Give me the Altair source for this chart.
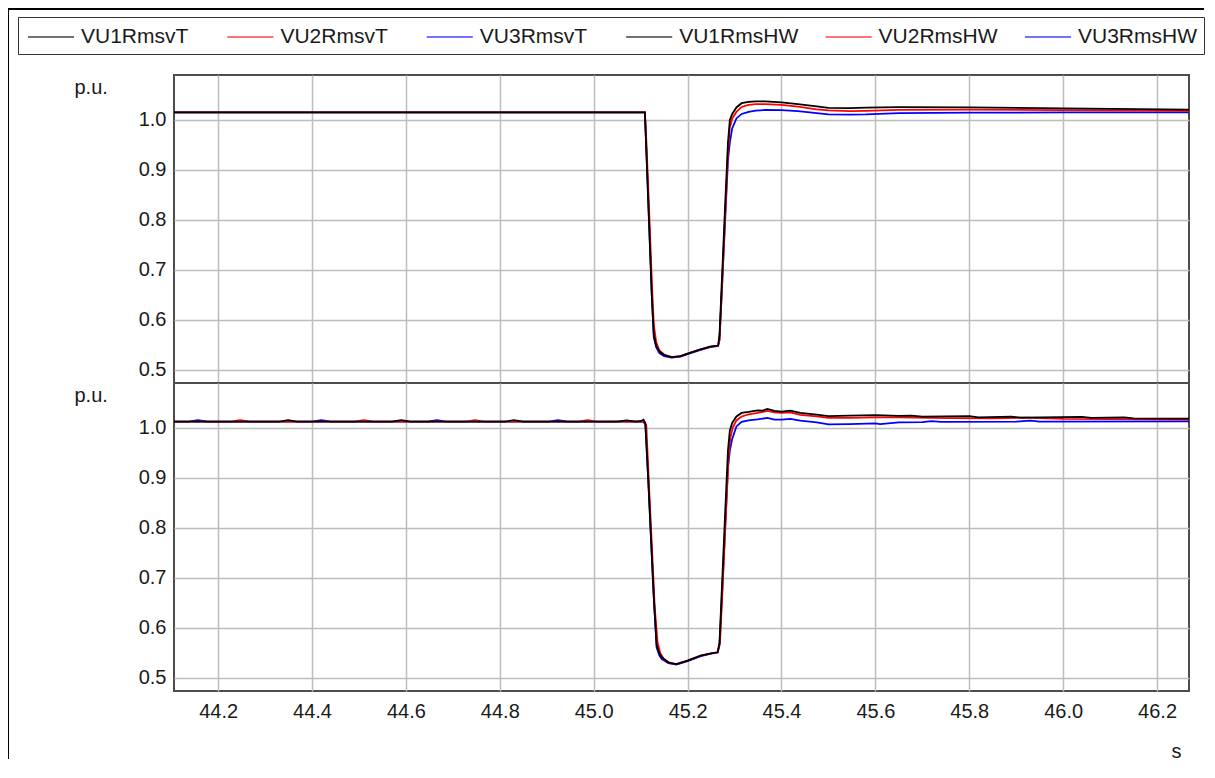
import altair as alt
import pandas as pd

SERIES = ["VU1RmsvT", "VU2RmsvT", "VU3RmsvT", "VU1RmsHW", "VU2RmsHW", "VU3RmsHW"]
COLORS = ["#000000", "#ff0000", "#0000ff", "#000000", "#ff0000", "#0000ff"]
X_TICKS = [44.2, 44.4, 44.6, 44.8, 45.0, 45.2, 45.4, 45.6, 45.8, 46.0, 46.2]
Y_TICKS = [0.5, 0.6, 0.7, 0.8, 0.9, 1.0]
X_DOMAIN = [44.106, 46.268]
Y_DOMAIN = [0.473, 1.09]

# ---- top panel (simulation, vT) ----
T_SIM = [44.106, 45.100, 45.109, 45.112, 45.118, 45.124, 45.128, 45.133, 45.140, 45.150,
         45.166, 45.185, 45.200, 45.226, 45.248, 45.265, 45.268, 45.274, 45.280, 45.286,
         45.290, 45.295, 45.304, 45.315, 45.330, 45.345, 45.365, 45.400, 45.435, 45.475,
         45.500, 45.545, 45.580, 45.650, 45.800, 46.000, 46.268]
VU1_VT = [1.015, 1.015, 1.015, 0.94, 0.79, 0.64, 0.57, 0.548, 0.536, 0.529,
          0.525, 0.527, 0.532, 0.540, 0.546, 0.548, 0.57, 0.70, 0.83, 0.955,
          1.000, 1.012, 1.025, 1.0335, 1.036, 1.037, 1.037, 1.035, 1.0315, 1.027,
          1.024, 1.0235, 1.0245, 1.0255, 1.025, 1.023, 1.0205]
VU2_VT = [1.015, 1.015, 1.015, 0.96, 0.82, 0.67, 0.59, 0.555, 0.538, 0.530,
          0.525, 0.527, 0.532, 0.540, 0.546, 0.548, 0.56, 0.68, 0.81, 0.935,
          0.985, 1.003, 1.016, 1.026, 1.030, 1.0315, 1.0315, 1.030, 1.0265, 1.021,
          1.019, 1.0175, 1.018, 1.020, 1.0205, 1.0195, 1.018]
VU3_VT = [1.015, 1.015, 1.015, 0.945, 0.795, 0.645, 0.565, 0.545, 0.533, 0.527,
          0.524, 0.526, 0.531, 0.539, 0.545, 0.547, 0.56, 0.68, 0.80, 0.92,
          0.955, 0.983, 1.003, 1.012, 1.016, 1.0185, 1.020, 1.0195, 1.0175, 1.0135,
          1.011, 1.0105, 1.011, 1.0135, 1.0145, 1.015, 1.015]

# ---- bottom panel (hardware, HW) ----
T_VU1_HW = [44.106, 44.33, 44.349, 44.368, 44.57, 44.59, 44.61, 44.81, 44.83, 44.85,
            45.05, 45.07, 45.09, 45.100, 45.106, 45.110, 45.116, 45.122, 45.128, 45.134,
            45.140, 45.145, 45.159, 45.176, 45.200, 45.228, 45.250, 45.264, 45.268, 45.274,
            45.280, 45.286, 45.290, 45.295, 45.304, 45.315, 45.330, 45.349, 45.360, 45.370,
            45.385, 45.400, 45.419, 45.440, 45.475, 45.500, 45.545, 45.600, 45.650, 45.676,
            45.700, 45.800, 45.820, 45.890, 45.910, 46.040, 46.060, 46.130, 46.150, 46.268]
VU1_HW = [1.0125, 1.0125, 1.0155, 1.0125, 1.0125, 1.0155, 1.0125, 1.0125, 1.0155, 1.0125,
          1.0125, 1.015, 1.0125, 1.0135, 1.0166, 1.010, 0.90, 0.78, 0.66, 0.565,
          0.548, 0.5405, 0.5305, 0.527, 0.534, 0.544, 0.5485, 0.5505, 0.57, 0.70,
          0.83, 0.955, 0.995, 1.010, 1.023, 1.030, 1.032, 1.035, 1.0345, 1.038,
          1.034, 1.0325, 1.0345, 1.030, 1.0265, 1.0235, 1.0245, 1.0255, 1.024, 1.0245,
          1.0225, 1.0235, 1.021, 1.0225, 1.0205, 1.022, 1.020, 1.021, 1.019, 1.0185]

T_VU2_HW = [44.106, 44.227, 44.247, 44.267, 44.49, 44.51, 44.53, 44.727, 44.747, 44.767,
            44.967, 44.987, 45.007, 45.105, 45.112, 45.118, 45.124, 45.130, 45.136, 45.142,
            45.150, 45.162, 45.176, 45.200, 45.228, 45.250, 45.264, 45.269, 45.275, 45.281,
            45.287, 45.291, 45.296, 45.304, 45.315, 45.330, 45.349, 45.370, 45.385, 45.400,
            45.419, 45.440, 45.475, 45.500, 45.545, 45.600, 45.650, 45.750, 45.850, 45.920,
            46.000, 46.100, 46.268]
VU2_HW = [1.0125, 1.0125, 1.0155, 1.0125, 1.0125, 1.0155, 1.0125, 1.0125, 1.0155, 1.0125,
          1.0125, 1.0155, 1.0125, 1.013, 1.005, 0.88, 0.76, 0.64, 0.57, 0.548,
          0.536, 0.529, 0.527, 0.534, 0.544, 0.5485, 0.5505, 0.57, 0.69, 0.815,
          0.94, 0.98, 1.000, 1.015, 1.023, 1.027, 1.030, 1.034, 1.031, 1.030,
          1.031, 1.026, 1.023, 1.020, 1.020, 1.021, 1.021, 1.0195, 1.019, 1.0205,
          1.018, 1.0175, 1.0166]

T_VU3_HW = [44.106, 44.137, 44.157, 44.177, 44.40, 44.42, 44.44, 44.646, 44.666, 44.686,
            44.904, 44.924, 44.944, 45.105, 45.110, 45.116, 45.122, 45.128, 45.134, 45.140,
            45.145, 45.159, 45.176, 45.200, 45.228, 45.250, 45.264, 45.268, 45.274, 45.280,
            45.286, 45.290, 45.295, 45.304, 45.315, 45.330, 45.349, 45.370, 45.385, 45.400,
            45.419, 45.440, 45.475, 45.500, 45.545, 45.600, 45.610, 45.650, 45.700, 45.720,
            45.740, 45.900, 45.930, 45.950, 46.268]
VU3_HW = [1.0125, 1.0125, 1.0155, 1.0125, 1.0125, 1.0155, 1.0125, 1.0125, 1.0155, 1.0125,
          1.0125, 1.0155, 1.0125, 1.0125, 1.008, 0.90, 0.78, 0.66, 0.56, 0.544,
          0.537, 0.529, 0.526, 0.533, 0.543, 0.548, 0.550, 0.565, 0.68, 0.80,
          0.92, 0.955, 0.978, 1.003, 1.012, 1.015, 1.017, 1.020, 1.0167, 1.0167,
          1.018, 1.0145, 1.011, 1.007, 1.0075, 1.009, 1.0075, 1.011, 1.0115, 1.0135,
          1.012, 1.0125, 1.0145, 1.0125, 1.013]


def frame(times, values, name):
    return pd.DataFrame({"t": times, "v": values, "series": name})


# draw order: blue, red, black (black on top)
top_df = pd.concat([frame(T_SIM, VU3_VT, "VU3RmsvT"),
                    frame(T_SIM, VU2_VT, "VU2RmsvT"),
                    frame(T_SIM, VU1_VT, "VU1RmsvT")], ignore_index=True)
bot_df = pd.concat([frame(T_VU3_HW, VU3_HW, "VU3RmsHW"),
                    frame(T_VU2_HW, VU2_HW, "VU2RmsHW"),
                    frame(T_VU1_HW, VU1_HW, "VU1RmsHW")], ignore_index=True)

FONT = "Liberation Sans"
TXT = "#1a1a1a"
GRID = "#bdbdbd"

color_enc = alt.Color(
    "series:N",
    scale=alt.Scale(domain=SERIES, range=COLORS),
    legend=alt.Legend(
        orient="none", legendX=-156, legendY=-58, direction="horizontal",
        columns=6, gridAlign="all", title=None,
        symbolType="M-1.92,0H1.92", symbolSize=576, symbolStrokeWidth=2,
        symbolOpacity=0.55, symbolOffset=13,
        labelFontSize=21, labelFont=FONT, labelColor=TXT,
        labelOffset=17, columnPadding=22.4, padding=7, labelLimit=220,
        strokeColor="#333333",
    ),
)

y_axis = alt.Axis(
    values=Y_TICKS, format=".1f", title="p.u.", titleAngle=0, titleAlign="left",
    titleBaseline="alphabetic", titleX=-100, titleY=18, titleFontSize=20,
    titleFontWeight="normal", titleFont=FONT, titleColor=TXT,
    labelFontSize=20, labelFont=FONT, labelColor=TXT, labelPadding=8,
    ticks=False, domain=False, grid=True, gridColor=GRID, gridWidth=1.5,
)
x_axis_top = alt.Axis(values=X_TICKS, labels=False, ticks=False, domain=False,
                      title=None, grid=True, gridColor=GRID, gridWidth=1.5)
x_axis_bot = alt.Axis(
    values=X_TICKS, format=".1f", title="s", titleX=1002, titleY=66,
    titleAlign="center", titleBaseline="alphabetic", titleFontSize=20,
    titleFontWeight="normal", titleFont=FONT, titleColor=TXT,
    labelFontSize=20, labelFont=FONT, labelColor=TXT, labelPadding=10,
    ticks=False, domain=False, grid=True, gridColor=GRID, gridWidth=1.5,
)

xs = alt.Scale(domain=X_DOMAIN, nice=False, zero=False)
ys = alt.Scale(domain=Y_DOMAIN, nice=False, zero=False)

lines_top = alt.Chart(top_df).mark_line(strokeWidth=1.8).encode(
    x=alt.X("t:Q", scale=xs, axis=x_axis_top),
    y=alt.Y("v:Q", scale=ys, axis=y_axis),
    color=color_enc,
)
lines_bot = alt.Chart(bot_df).mark_line(strokeWidth=1.8).encode(
    x=alt.X("t:Q", scale=xs, axis=x_axis_bot),
    y=alt.Y("v:Q", scale=ys, axis=y_axis),
    color=color_enc,
)

one = pd.DataFrame({"f": [0]})
frame_top = alt.Chart(one).mark_rule(color="black", strokeWidth=2).encode(
    x=alt.value(-166), x2=alt.value(1030), y=alt.value(-66))
frame_left = alt.Chart(one).mark_rule(color="black", strokeWidth=2).encode(
    x=alt.value(-166), y=alt.value(-67), y2=alt.value(684))

top = alt.layer(lines_top, frame_top, frame_left).properties(width=1015, height=308)
bottom = lines_bot.properties(width=1015, height=308)

chart = (
    alt.vconcat(top, bottom, spacing=0, bounds="flush")
    .properties(padding={"left": -2, "top": -2, "right": 0, "bottom": 0},
                background="white")
    .configure_view(stroke="#4d4d4d", strokeWidth=2)
)

chart.save("out.html", embed_options={"renderer": "svg", "actions": False})
